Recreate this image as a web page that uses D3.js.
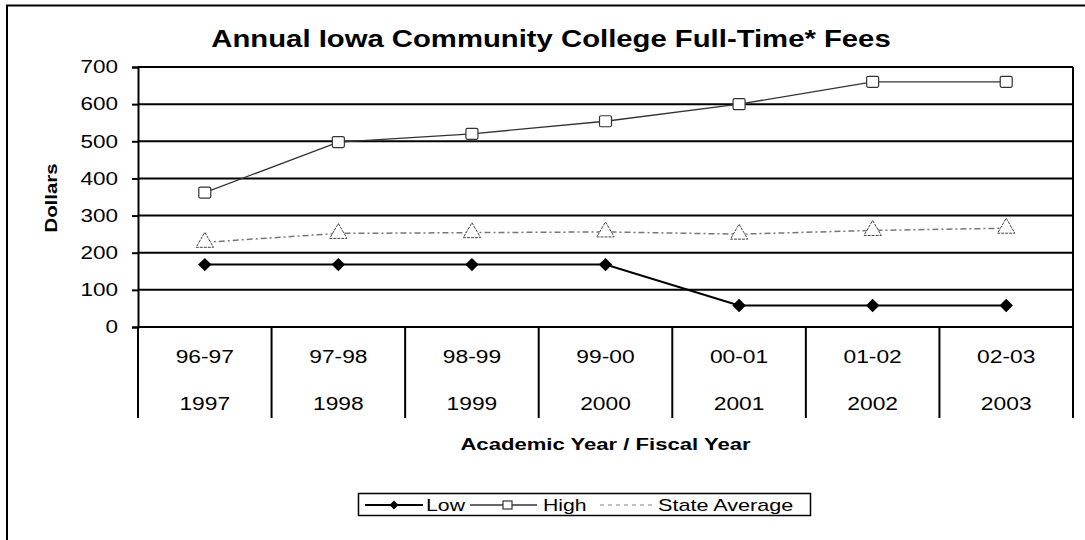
<!DOCTYPE html>
<html>
<head>
<meta charset="utf-8">
<script src="https://cdn.jsdelivr.net/npm/d3@7"></script>
<style>
  body { margin: 0; background: #fff; }
  svg { font-family: Arial, "Liberation Sans", sans-serif; }
</style>
</head>
<body>
<svg id="chart" width="1085" height="540"></svg>
<script>
// chart data
var academicYears = ["96-97", "97-98", "98-99", "99-00", "00-01", "01-02", "02-03"];
var fiscalYears = ["1997", "1998", "1999", "2000", "2001", "2002", "2003"];
var lowFees = [168, 168, 168, 168, 58, 58, 58];
var highFees = [362, 498, 520, 554, 600, 660, 660];
var avgFees = [228, 252, 254, 256, 250, 260, 266];
var yTicks = [0, 100, 200, 300, 400, 500, 600, 700];

var svg = d3.select("#chart");

// the scanned original has slightly wide lettering, so text gets a horizontal stretch
const stretchText = (parent, x, y, str, size, sx, bold, anchor) => {
    let g = parent.append("g")
        .attr("transform", "translate(" + x + "," + y + ") scale(" + sx + ",1)");
    return g.append("text")
        .attr("text-anchor", anchor || "middle")
        .style("font-size", size + "px")
        .style("font-weight", bold ? "bold" : "normal")
        .text(str);
};

// outer border of the chart object (right and bottom run off the page)
svg.append("path")
    .attr("d", "M7,540 L7,5.5 L1085,5.5")
    .attr("fill", "none")
    .attr("stroke", "#000")
    .attr("stroke-width", 2);

var plotLeft = 138, plotRight = 1073, plotTop = 67, plotBottom = 327;

var x = d3.scaleBand()
    .domain(d3.range(academicYears.length))
    .range([plotLeft, plotRight]);

var y = d3.scaleLinear()
    .domain([0, 700])
    .range([plotBottom, plotTop]);

var cx = function(d, i) { return x(i) + x.bandwidth() / 2; };

// title
stretchText(svg, 551, 47, "Annual Iowa Community College Full-Time* Fees", 24, 1.22, true);

// gridlines
svg.append("g")
    .selectAll("line")
    .data(yTicks)
    .enter()
    .append("line")
    .attr("x1", plotLeft)
    .attr("x2", plotRight)
    .attr("y1", function(d) { return y(d); })
    .attr("y2", function(d) { return y(d); })
    .attr("stroke", "#000")
    .attr("stroke-width", 2);

// plot right edge
svg.append("line")
    .attr("x1", plotRight).attr("x2", plotRight)
    .attr("y1", plotTop).attr("y2", plotBottom)
    .attr("stroke", "#000")
    .attr("stroke-width", 2);

// y axis
var yAxis = d3.axisLeft(y)
    .tickValues(yTicks)
    .tickSize(6)
    .tickPadding(14);

var gy = svg.append("g")
    .attr("transform", "translate(" + plotLeft + ",0)")
    .call(yAxis);
gy.select(".domain").attr("stroke-width", 2);
gy.selectAll(".tick line").attr("stroke-width", 2);
gy.selectAll("text")
    .attr("x", -20 / 1.25)
    .attr("transform", "scale(1.25,1)")
    .style("font-size", "18px")
    .style("font-family", "Arial, 'Liberation Sans', sans-serif")
    .attr("fill", "#000");

var dollars = svg.append("g").attr("transform", "translate(57,198) rotate(-90)");
stretchText(dollars, 0, 0, "Dollars", 17, 1.2, true);

// category table below the axis
var catBottom = 418;
svg.append("g")
    .selectAll("line")
    .data(d3.range(academicYears.length + 1))
    .enter()
    .append("line")
    .attr("x1", function(i) { return plotLeft + i * x.bandwidth(); })
    .attr("x2", function(i) { return plotLeft + i * x.bandwidth(); })
    .attr("y1", plotBottom)
    .attr("y2", catBottom)
    .attr("stroke", "#000")
    .attr("stroke-width", 2);

var catGroup = svg.append("g");
academicYears.forEach(function(d, i) {
    stretchText(catGroup, cx(d, i), 363, d, 19, 1.2, false);
    stretchText(catGroup, cx(d, i), 410, fiscalYears[i], 19, 1.2, false);
});

stretchText(svg, (plotLeft + plotRight) / 2, 450, "Academic Year / Fiscal Year", 17, 1.3, true);

// lines
var line = d3.line()
    .x(cx)
    .y(function(d) { return y(d); });

// state average
svg.append("path")
    .datum(avgFees)
    .attr("d", line)
    .attr("fill", "none")
    .attr("stroke", "#777")
    .attr("stroke-width", 1.5)
    .attr("stroke-dasharray", "6,3,2,3");

var tri = d3.symbol().type(d3.symbolTriangle).size(130);
svg.append("g")
    .selectAll("path")
    .data(avgFees)
    .enter()
    .append("path")
    .attr("d", tri)
    .attr("transform", function(d, i) { return "translate(" + cx(d, i) + "," + y(d) + ")"; })
    .attr("fill", "#fff")
    .attr("stroke", "#444")
    .attr("stroke-width", 1)
    .attr("stroke-dasharray", "3,1");

// high
svg.append("path")
    .datum(highFees)
    .attr("d", line)
    .attr("fill", "none")
    .attr("stroke", "#333")
    .attr("stroke-width", 1.3);

svg.append("g")
    .selectAll("rect")
    .data(highFees)
    .enter()
    .append("rect")
    .attr("x", function(d, i) { return cx(d, i) - 6; })
    .attr("y", function(d) { return y(d) - 5.5; })
    .attr("width", 12)
    .attr("height", 11)
    .attr("rx", 1.5)
    .attr("fill", "#fff")
    .attr("stroke", "#333")
    .attr("stroke-width", 1.2);

// low
svg.append("path")
    .datum(lowFees)
    .attr("d", line)
    .attr("fill", "none")
    .attr("stroke", "#000")
    .attr("stroke-width", 2);

var diamond = d3.symbol().type(d3.symbolSquare).size(90);
svg.append("g")
    .selectAll("path")
    .data(lowFees)
    .enter()
    .append("path")
    .attr("d", diamond)
    .attr("transform", function(d, i) { return "translate(" + cx(d, i) + "," + y(d) + ") rotate(45)"; })
    .attr("fill", "#000");

// legend
var legend = svg.append("g");
legend.append("rect")
    .attr("x", 358.5)
    .attr("y", 493.5)
    .attr("width", 452)
    .attr("height", 22)
    .attr("fill", "#fff")
    .attr("stroke", "#000")
    .attr("stroke-width", 1.5);

var ly = 505;
// Low
legend.append("line").attr("x1", 365).attr("x2", 423).attr("y1", ly).attr("y2", ly)
    .attr("stroke", "#000").attr("stroke-width", 2);
legend.append("path").attr("d", d3.symbol().type(d3.symbolSquare).size(40))
    .attr("transform", "translate(394," + ly + ") rotate(45)").attr("fill", "#000");
stretchText(legend, 426, ly + 6, "Low", 17, 1.25, false, "start");
// High
legend.append("line").attr("x1", 470).attr("x2", 537).attr("y1", ly).attr("y2", ly)
    .attr("stroke", "#333").attr("stroke-width", 1.3);
legend.append("rect").attr("x", 503).attr("y", ly - 4).attr("width", 9).attr("height", 8)
    .attr("fill", "#fff").attr("stroke", "#333").attr("stroke-width", 1.2);
stretchText(legend, 543, ly + 6, "High", 17, 1.25, false, "start");
// State Average
legend.append("line").attr("x1", 600).attr("x2", 653).attr("y1", ly).attr("y2", ly)
    .attr("stroke", "#888").attr("stroke-width", 1.2).attr("stroke-dasharray", "4,4");
stretchText(legend, 658, ly + 6, "State Average", 17, 1.27, false, "start");
</script>
</body>
</html>
